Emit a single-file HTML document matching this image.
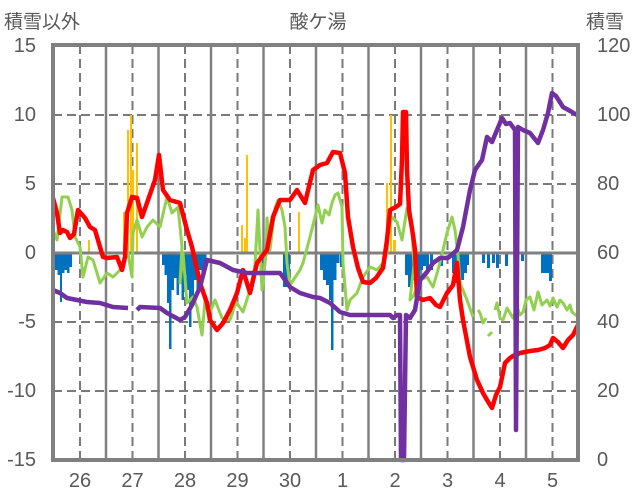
<!DOCTYPE html>
<html><head><meta charset="utf-8"><style>
html,body{margin:0;padding:0;background:#fff;}
svg{display:block;font-family:"Liberation Sans","Noto Sans CJK JP",sans-serif;}
</style></head><body>
<svg width="636" height="501" viewBox="0 0 636 501" xmlns="http://www.w3.org/2000/svg">
<rect width="636" height="501" fill="#fff"/>
<g stroke="#7a7a7a" stroke-width="2" stroke-dasharray="9,5">
<line x1="53" x2="578" y1="115" y2="115"/>
<line x1="53" x2="578" y1="184" y2="184"/>
<line x1="53" x2="578" y1="322" y2="322"/>
<line x1="53" x2="578" y1="391" y2="391"/>
<line x1="80" x2="80" y1="45" y2="460"/>
<line x1="132.5" x2="132.5" y1="45" y2="460"/>
<line x1="185" x2="185" y1="45" y2="460"/>
<line x1="237.5" x2="237.5" y1="45" y2="460"/>
<line x1="290" x2="290" y1="45" y2="460"/>
<line x1="342.5" x2="342.5" y1="45" y2="460"/>
<line x1="395" x2="395" y1="45" y2="460"/>
<line x1="447.5" x2="447.5" y1="45" y2="460"/>
<line x1="500" x2="500" y1="45" y2="460"/>
<line x1="552.5" x2="552.5" y1="45" y2="460"/>
</g>
<g stroke="#808080" stroke-width="2.5">
<line x1="106" x2="106" y1="45" y2="460"/>
<line x1="158.5" x2="158.5" y1="45" y2="460"/>
<line x1="211" x2="211" y1="45" y2="460"/>
<line x1="263.5" x2="263.5" y1="45" y2="460"/>
<line x1="316" x2="316" y1="45" y2="460"/>
<line x1="368.5" x2="368.5" y1="45" y2="460"/>
<line x1="421" x2="421" y1="45" y2="460"/>
<line x1="473.5" x2="473.5" y1="45" y2="460"/>
<line x1="526" x2="526" y1="45" y2="460"/>
</g>
<g fill="#ffc000">
<rect x="123" y="212" width="2" height="41"/>
<rect x="127" y="130" width="2" height="123"/>
<rect x="130" y="115" width="2" height="138"/>
<rect x="132" y="170" width="2" height="83"/>
<rect x="136" y="143" width="2" height="110"/>
<rect x="88" y="240" width="2" height="13"/>
<rect x="241" y="225" width="2" height="28"/>
<rect x="244" y="238" width="2" height="15"/>
<rect x="246" y="155" width="2" height="98"/>
<rect x="298" y="212" width="2" height="41"/>
<rect x="386" y="183" width="2" height="70"/>
<rect x="390" y="115" width="2" height="138"/>
<rect x="393" y="240" width="3" height="13"/>
</g>
<g fill="#0070c0">
<rect x="55" y="253" width="2.5" height="17"/>
<rect x="57.5" y="253" width="2.5" height="22"/>
<rect x="60" y="253" width="2" height="49"/>
<rect x="62" y="253" width="2.5" height="20"/>
<rect x="64.5" y="253" width="2.5" height="17"/>
<rect x="67" y="253" width="2.5" height="20"/>
<rect x="69.5" y="253" width="2.5" height="14"/>
<rect x="162" y="253" width="2.5" height="12"/>
<rect x="164.5" y="253" width="2.5" height="22"/>
<rect x="167" y="253" width="2" height="50"/>
<rect x="169" y="253" width="2.5" height="96"/>
<rect x="171.5" y="253" width="2.5" height="37"/>
<rect x="174" y="253" width="2.5" height="25"/>
<rect x="176.5" y="253" width="2.5" height="42"/>
<rect x="179" y="253" width="2.5" height="27"/>
<rect x="181.5" y="253" width="2.5" height="47"/>
<rect x="184" y="253" width="2.5" height="22"/>
<rect x="186.5" y="253" width="2.5" height="37"/>
<rect x="189" y="253" width="2.5" height="74"/>
<rect x="191.5" y="253" width="2.5" height="47"/>
<rect x="194" y="253" width="2.5" height="27"/>
<rect x="196.5" y="253" width="2.5" height="42"/>
<rect x="199" y="253" width="2.5" height="17"/>
<rect x="201.5" y="253" width="2.5" height="27"/>
<rect x="204" y="253" width="2.5" height="12"/>
<rect x="260" y="253" width="3" height="10"/>
<rect x="283" y="253" width="7" height="34"/>
<rect x="320" y="253" width="3" height="17"/>
<rect x="323" y="253" width="3" height="27"/>
<rect x="326" y="253" width="3" height="32"/>
<rect x="329" y="253" width="2" height="47"/>
<rect x="331" y="253" width="2.5" height="97"/>
<rect x="333.5" y="253" width="3" height="27"/>
<rect x="336.5" y="253" width="3" height="10"/>
<rect x="340" y="253" width="3" height="14"/>
<rect x="405" y="253" width="3" height="22"/>
<rect x="408" y="253" width="3" height="34"/>
<rect x="411" y="253" width="3" height="27"/>
<rect x="414" y="253" width="3" height="20"/>
<rect x="417" y="253" width="3" height="30"/>
<rect x="420" y="253" width="3" height="17"/>
<rect x="423" y="253" width="3" height="13"/>
<rect x="426" y="253" width="3" height="20"/>
<rect x="430" y="253" width="3" height="17"/>
<rect x="440" y="253" width="3" height="13"/>
<rect x="452" y="253" width="3" height="20"/>
<rect x="455" y="253" width="3" height="30"/>
<rect x="458" y="253" width="3" height="22"/>
<rect x="461" y="253" width="3" height="27"/>
<rect x="464" y="253" width="3" height="20"/>
<rect x="467" y="253" width="2" height="12"/>
<rect x="482" y="253" width="3" height="10"/>
<rect x="487" y="253" width="3" height="15"/>
<rect x="492" y="253" width="3" height="10"/>
<rect x="496" y="253" width="3" height="15"/>
<rect x="505" y="253" width="3" height="13"/>
<rect x="521" y="253" width="3" height="8"/>
<rect x="541" y="253" width="10" height="20"/>
<rect x="549" y="253" width="3" height="28"/>
</g>
<line x1="53" x2="578" y1="253" y2="253" stroke="#808080" stroke-width="3"/>
<g fill="none" stroke="#92d050" stroke-width="3" stroke-linejoin="round">
<polyline points="53,230 57,240 62,197 68,197 72,210 75,237 80,247 83,277 88,257 93,260 100,283 107,273 113,277 120,270 128,253 132,277 133,233 137,220 142,237 147,227 153,220 160,227 167,197 172,213 178,207 182,247 180,283 183,253 187,303 193,297 197,307 202,335 205,300 210,312 215,300 222,318 230,320 236,302 243,312 250,290 255,265 258,210 262,290 266,255 267,218 270,250 275,208 278,200 282,210 285,227 287,263 290,285 300,270 303,263 310,237 315,217 318,205 322,223 325,210 329,215 332,203 335,195 338,193 342,207 343,263 347,310 350,300 357,293 363,277 370,267 377,270 383,263 387,253 388,233 392,217 397,222 402,240 407,208 412,230 414,265 410,300 414,295 420,280 427,277 433,287 438,270 443,250 447,233 452,217 455,230 458,255 460,283 467,300 473,317"/>
<polyline points="478,310 480,313 483,323 486,318"/>
<polyline points="488,336 492,332"/>
<polyline points="495,310 497,303 500,318 503,320 507,308 510,313 513,318 517,307 520,315 523,312 526,300 530,297 534,310 538,292 542,305 547,300 550,306 553,298 557,307 560,300 563,303 567,310 570,305 572,312 578,317"/>
</g>
<polyline fill="none" stroke="#ff0000" stroke-width="4.5" stroke-linejoin="round" points="53,198 57,213 60,233 63,230 67,232 70,238 74,234 78,210 85,218 90,227 95,230 100,247 103,257 107,258 117,257 122,270 125,257 127,213 132,197 137,198 142,217 148,200 155,180 159,155 163,190 170,200 180,203 187,230 192,247 200,283 207,303 210,320 217,330 223,323 230,310 237,293 243,270 250,293 257,263 267,250 273,217 280,200 290,200 297,190 305,203 313,170 320,165 327,163 333,152 340,153 345,173 348,217 353,247 358,268 363,282 370,283 376,278 383,268 387,240 390,210 396,207 400,204 402,160 403,112 406,112 407,170 409,210 413,235 415,250 417,297 423,300 430,298 436,305 440,307 447,293 453,285 457,263 460,300 463,320 470,357 477,380 483,393 487,400 492,408 496,395 500,387 505,363 510,358 513,356 520,353 530,351 538,350 545,348 550,345 553,338 558,342 563,348 568,340 573,335 578,325"/>
<polyline fill="none" stroke="#7030a0" stroke-width="4.5" stroke-linejoin="round" points="53,290 60,293 67,298 77,300 87,302 100,303 113,307 128,308"/>
<polyline fill="none" stroke="#7030a0" stroke-width="4.5" stroke-linejoin="round" points="137,310 140,307 160,308 167,313 180,320 185,317 192,305 200,287 207,260 220,263 233,270 247,273 280,273 290,287 300,293 313,297 320,298 330,303 340,312 350,315 390,315 393,318 397,315 400,315 401,460 404,460 406,315 410,318 415,310 420,280 427,272 433,263 440,258 448,258 457,250 463,227 470,190 475,170 482,160 487,137 492,142 497,130 502,118 506,124 510,123 515,130 516,430 518,127 523,130 530,133 538,143 543,130 548,113 552,93 556,96 563,107 572,112 577,115"/>
<rect x="53" y="45" width="525" height="415" fill="none" stroke="#808080" stroke-width="4"/>
<g fill="#595959" font-size="20" text-anchor="end">
<text x="36" y="52">15</text>
<text x="36" y="121">10</text>
<text x="36" y="190">5</text>
<text x="36" y="259">0</text>
<text x="36" y="328">-5</text>
<text x="36" y="397">-10</text>
<text x="36" y="466">-15</text>
</g>
<g fill="#595959" font-size="20" text-anchor="start">
<text x="597" y="52">120</text>
<text x="597" y="121">100</text>
<text x="597" y="190">80</text>
<text x="597" y="259">60</text>
<text x="597" y="328">40</text>
<text x="597" y="397">20</text>
<text x="597" y="466">0</text>
</g>
<g fill="#595959" font-size="20" text-anchor="middle">
<text x="80" y="487">26</text>
<text x="132.5" y="487">27</text>
<text x="185" y="487">28</text>
<text x="237.5" y="487">29</text>
<text x="290" y="487">30</text>
<text x="342.5" y="487">1</text>
<text x="395" y="487">2</text>
<text x="447.5" y="487">3</text>
<text x="500" y="487">4</text>
<text x="552.5" y="487">5</text>
</g>
<g fill="#595959" font-size="19">
<text x="4" y="28">積雪以外</text>
<text x="318" y="28" text-anchor="middle">酸ケ湯</text>
<text x="586" y="28">積雪</text>
</g>
</svg>
</body></html>
